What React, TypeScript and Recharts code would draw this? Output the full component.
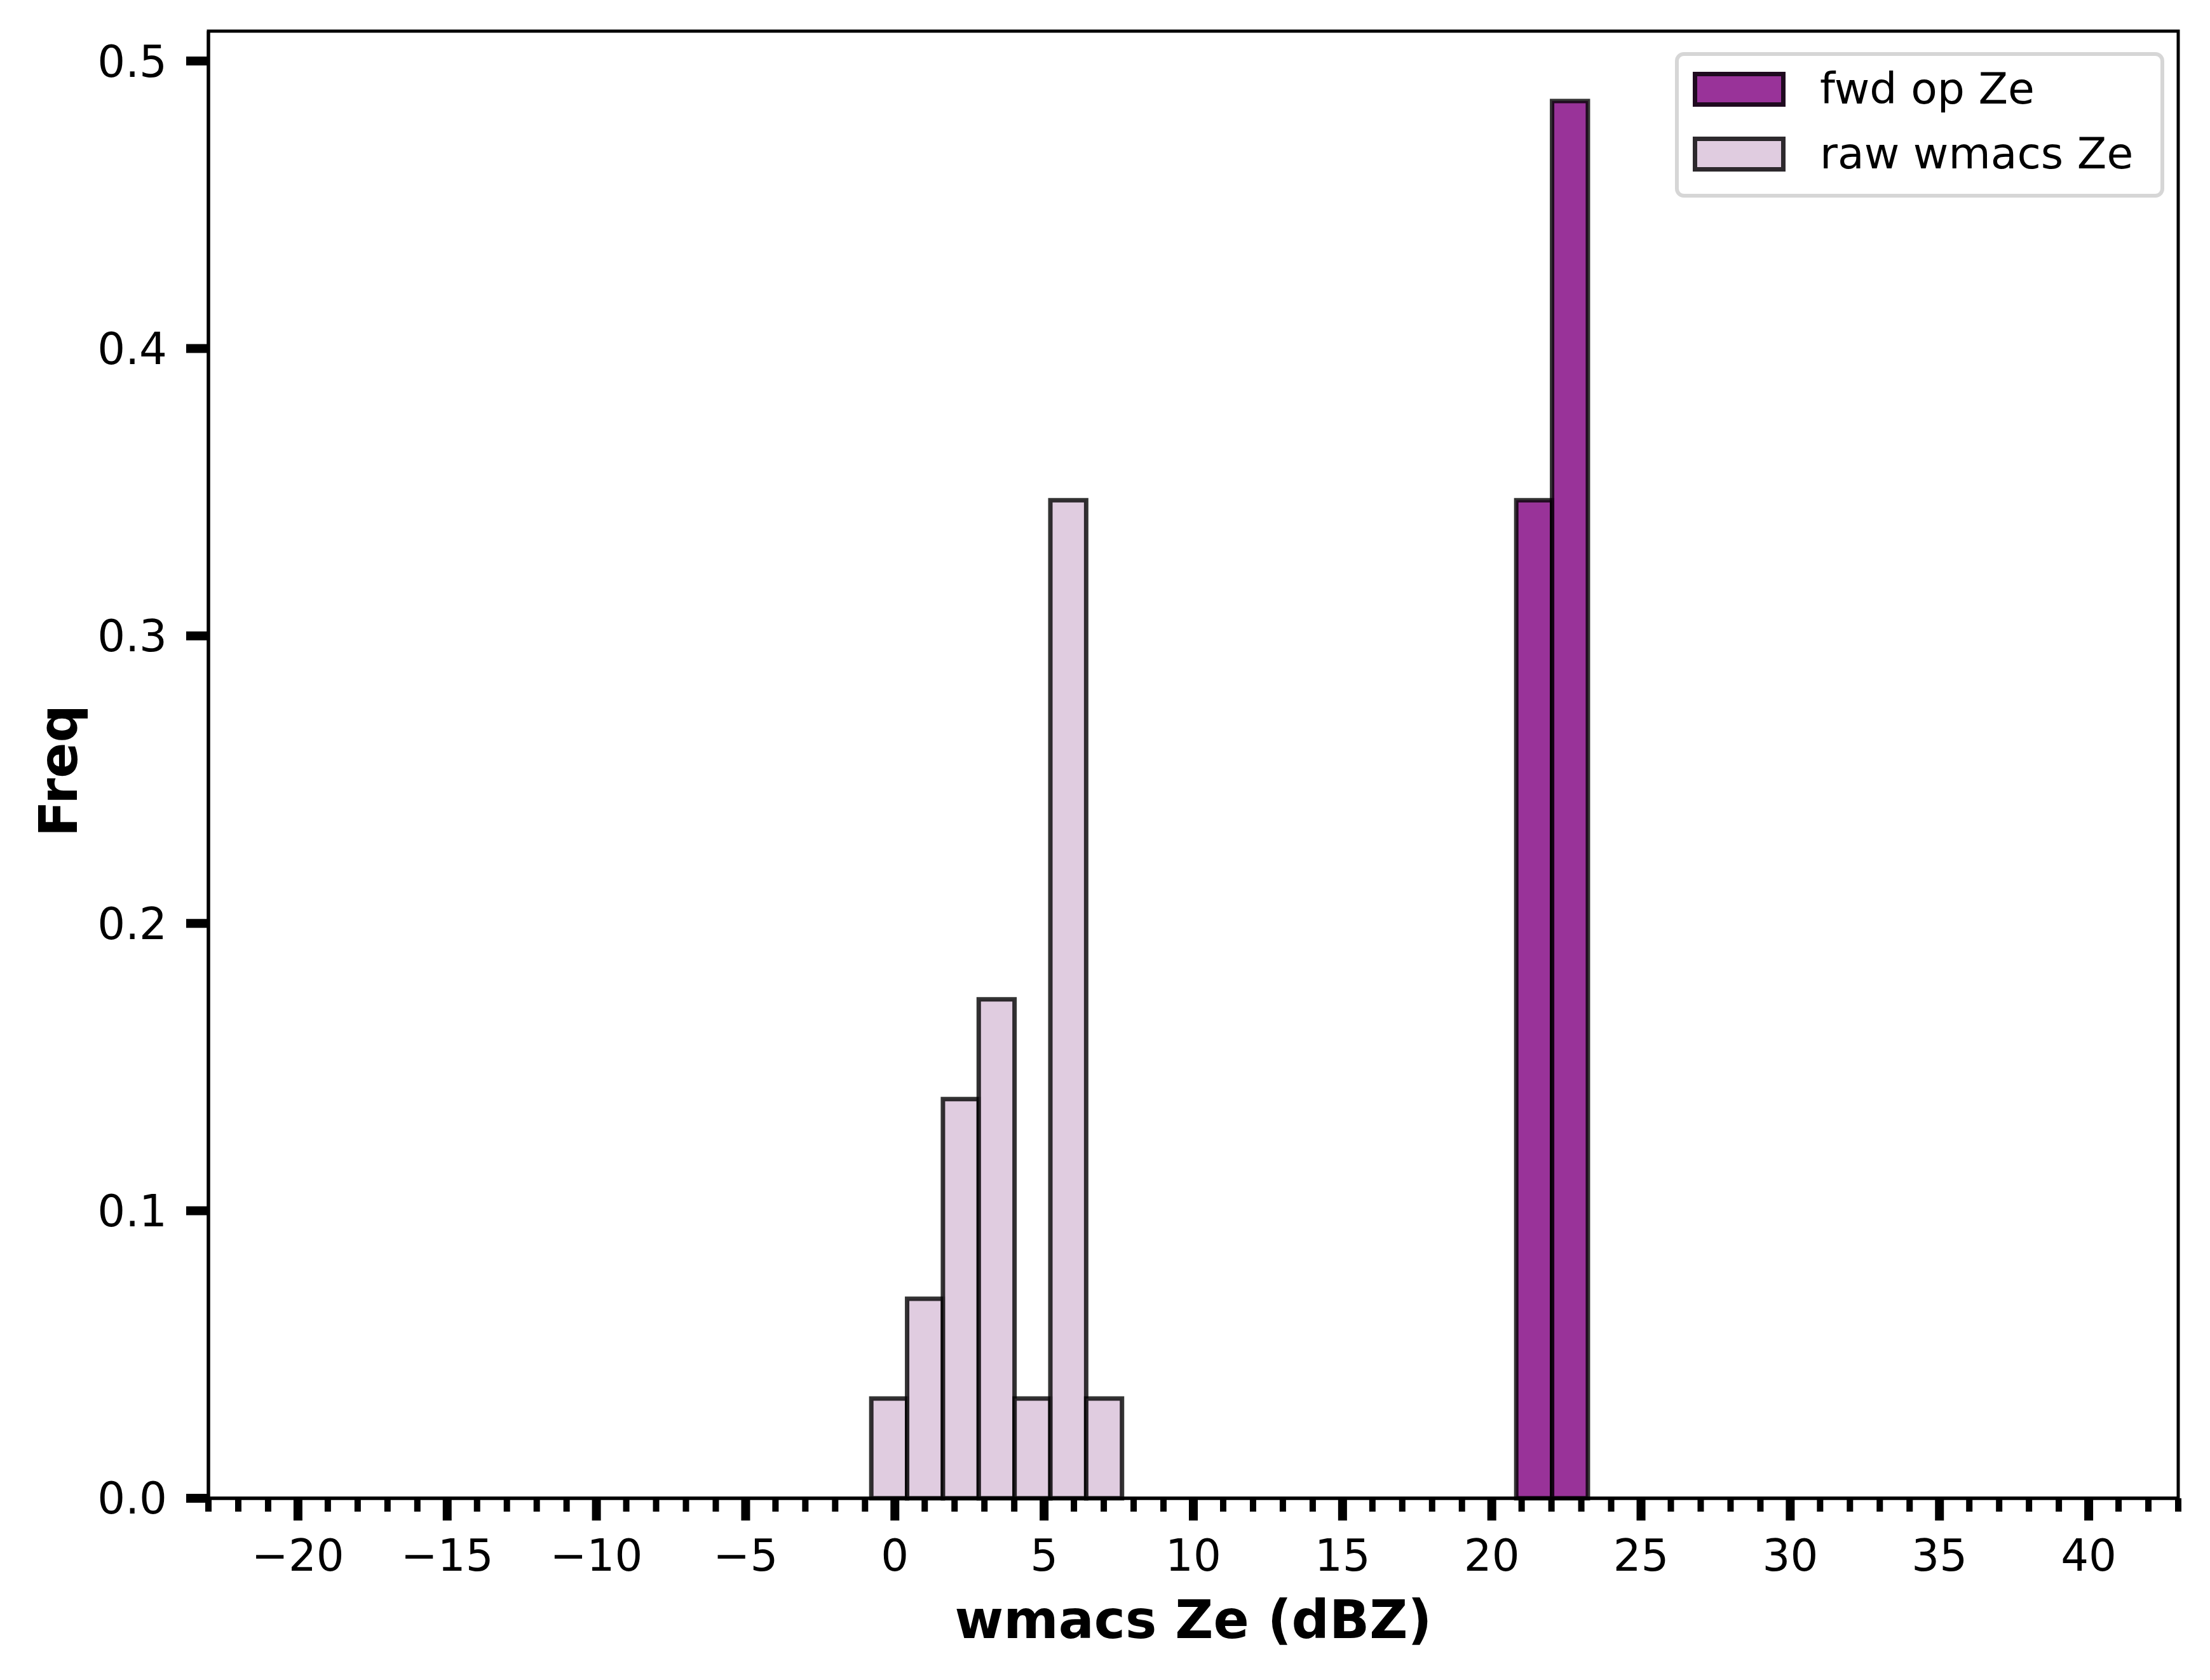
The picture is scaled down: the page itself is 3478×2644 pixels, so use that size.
import { ComposedChart, XAxis, YAxis, ReferenceArea } from 'recharts'

// histogram bin edges and densities
const fwdEdges = [20.82, 22.02, 23.22]
const fwdFreq = [0.3472, 0.4861]
const rawEdges = [-0.79, 0.41, 1.61, 2.81, 4.01, 5.21, 6.41, 7.61]
const rawFreq = [0.0347, 0.0694, 0.1389, 0.1736, 0.0347, 0.3472, 0.0347]

const xDomain = [-23, 43]
const yDomain = [0, 0.5104]
const yTicks = [0, 0.1, 0.2, 0.3, 0.4, 0.5]
const xMajor = [-20, -15, -10, -5, 0, 5, 10, 15, 20, 25, 30, 35, 40]
const xAllTicks = Array.from({ length: 67 }, (_, i) => i - 23)

const FWD_FILL = 'rgba(128,0,128,0.8)'
const RAW_FILL = 'rgba(216,191,216,0.8)'
const EDGE = 'rgba(0,0,0,0.8)'
const FONT = 'DejaVu Sans'

const W = 3478
const H = 2644

const fmt = (v: number) => (v < 0 ? '\u2212' + Math.abs(v) : String(v))

function XTick(props: any) {
  const { x, y, payload } = props
  const major = xMajor.includes(payload.value)
  return (
    <g>
      <line
        x1={x}
        x2={x}
        y1={y}
        y2={y + (major ? 35 : 21)}
        stroke="#000"
        strokeWidth={major ? 14 : 10}
      />
      {major && (
        <text x={x} y={y + 114} textAnchor="middle" fontSize={69} fontFamily={FONT} fill="#000">
          {fmt(payload.value)}
        </text>
      )}
    </g>
  )
}

const legendItems = [
  { name: 'fwd op Ze', fill: FWD_FILL },
  { name: 'raw wmacs Ze', fill: RAW_FILL },
]

export default function App() {
  const fwdBins = fwdFreq.map((v, i) => ({ x1: fwdEdges[i], x2: fwdEdges[i + 1], y: v }))
  const rawBins = rawFreq.map((v, i) => ({ x1: rawEdges[i], x2: rawEdges[i + 1], y: v }))

  return (
    <div style={{ position: 'absolute', left: 0, top: 0, width: W, height: H, background: '#fff' }}>
      <ComposedChart width={W} height={H} data={rawBins} margin={{ top: 49, right: 50, bottom: 0, left: 0 }}>
        <XAxis
          type="number"
          dataKey="x1"
          domain={xDomain}
          ticks={xAllTicks}
          interval={0}
          height={286}
          tickSize={0}
          tickMargin={0}
          tickLine={false}
          axisLine={{ stroke: '#000', strokeWidth: 5 }}
          tick={<XTick />}
          allowDataOverflow
          label={{
            content: () => (
              <text x={1878} y={2578} textAnchor="middle" fontSize={83} fontWeight="bold" fontFamily={FONT} fill="#000">
                wmacs Ze (dBZ)
              </text>
            ),
          }}
        />
        <YAxis
          type="number"
          domain={yDomain}
          ticks={yTicks}
          interval={0}
          width={328}
          tickSize={35}
          tickMargin={30}
          tickLine={{ stroke: '#000', strokeWidth: 14 }}
          axisLine={{ stroke: '#000', strokeWidth: 5 }}
          tick={{ fontSize: 69, fontFamily: FONT, fill: '#000' }}
          tickFormatter={(v: number) => v.toFixed(1)}
          allowDataOverflow
          label={{
            content: () => (
              <text
                x={121}
                y={1213}
                transform="rotate(-90, 121, 1213)"
                textAnchor="middle"
                fontSize={83}
                fontWeight="bold"
                fontFamily={FONT}
                fill="#000"
              >
                Freq
              </text>
            ),
          }}
        />

        {rawBins.map((b, i) => (
          <ReferenceArea
            key={`raw-${i}`}
            x1={b.x1}
            x2={b.x2}
            y1={0}
            y2={b.y}
            fill={RAW_FILL}
            fillOpacity={1}
            stroke={EDGE}
            strokeWidth={7}
          />
        ))}
        {fwdBins.map((b, i) => (
          <ReferenceArea
            key={`fwd-${i}`}
            x1={b.x1}
            x2={b.x2}
            y1={0}
            y2={b.y}
            fill={FWD_FILL}
            fillOpacity={1}
            stroke={EDGE}
            strokeWidth={7}
          />
        ))}

        {/* axes frame (top and right spines) */}
        <ReferenceArea
          x1={xDomain[0]}
          x2={xDomain[1]}
          y1={yDomain[0]}
          y2={yDomain[1]}
          fill="none"
          stroke="#000"
          strokeWidth={5}
          ifOverflow="visible"
        />
      </ComposedChart>

      {/* Legend */}
      <div
        style={{
          position: 'absolute',
          left: 2636,
          top: 82,
          width: 770,
          height: 229,
          boxSizing: 'border-box',
          border: '6px solid #d6d6d6',
          borderRadius: 14,
          background: 'rgba(255,255,255,0.8)',
        }}
      >
        {legendItems.map((d, i) => (
          <div key={i}>
            <div
              style={{
                position: 'absolute',
                left: 22,
                top: 25 + i * 102,
                width: 146,
                height: 55,
                boxSizing: 'border-box',
                border: `7px solid ${EDGE}`,
                background: d.fill,
              }}
            />
            <div
              style={{
                position: 'absolute',
                left: 222,
                top: 12 + i * 102,
                height: 80,
                lineHeight: '80px',
                fontSize: 68,
                fontFamily: FONT,
                color: '#000',
                whiteSpace: 'nowrap',
              }}
            >
              {d.name}
            </div>
          </div>
        ))}
      </div>
    </div>
  )
}
